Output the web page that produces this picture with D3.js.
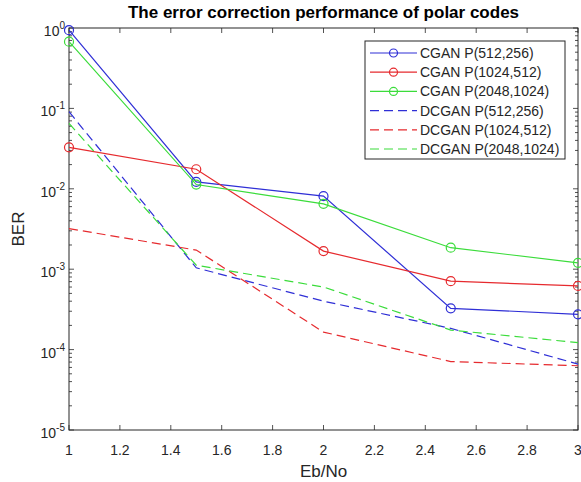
<!DOCTYPE html>
<html>
<head>
<meta charset="utf-8">
<script src="https://cdn.jsdelivr.net/npm/d3@7"></script>
<style>
  body { margin: 0; background: #fff; }
  text { font-family: "Liberation Sans", Arial, sans-serif; fill: #262626; }
  .line { fill: none; stroke-width: 1.2; }
</style>
</head>
<body>
<script>
// Data
let ebno = [1, 1.5, 2, 2.5, 3];
let cgan512 = [0.94, 0.0122, 0.0081, 3.26e-4, 2.75e-4];
let cgan1024 = [0.0328, 0.0175, 1.68e-3, 7.1e-4, 6.2e-4];
let cgan2048 = [0.675, 0.0113, 6.5e-3, 1.85e-3, 1.2e-3];
let dcgan512 = [0.091, 1.04e-3, 4.0e-4, 1.84e-4, 6.6e-5];
let dcgan1024 = [3.2e-3, 1.73e-3, 1.65e-4, 7.1e-5, 6.3e-5];
let dcgan2048 = [0.065, 1.12e-3, 6.0e-4, 1.75e-4, 1.22e-4];

let seriesNames = ["CGAN P(512,256)", "CGAN P(1024,512)", "CGAN P(2048,1024)",
                   "DCGAN P(512,256)", "DCGAN P(1024,512)", "DCGAN P(2048,1024)"];
let seriesValues = [cgan512, cgan1024, cgan2048, dcgan512, dcgan1024, dcgan2048];
let seriesColors = ["#2f2fd6", "#e62a2e", "#3bdc3b", "#2f2fd6", "#e62a2e", "#3bdc3b"];
let seriesDashed = [false, false, false, true, true, true];

let xTicks = [1, 1.2, 1.4, 1.6, 1.8, 2, 2.2, 2.4, 2.6, 2.8, 3];
let yExponents = [0, -1, -2, -3, -4, -5];

// Set the dimensions of the canvas / graph
let margin = {top: 28, right: 3, bottom: 52, left: 69};
let width = 581 - margin.left - margin.right;
let height = 482 - margin.top - margin.bottom;

// Set the ranges
let x = d3.scaleLinear().domain([1, 3]).range([0, width]);
let y = d3.scaleLog().domain([1e-5, 1]).range([height, 0]);

let svg = d3.select("body")
    .append("svg")
        .attr("width", 581)
        .attr("height", 482)
    .append("g")
        .attr("transform", "translate(" + margin.left + "," + margin.top + ")");

// minor log ticks (2..9 in each decade)
let minorTicks = [];
yExponents.slice(1).forEach(function(e) {
    for (let k = 2; k <= 9; k++) minorTicks.push(k * Math.pow(10, e));
});

let tickG = svg.append("g").attr("stroke", "#262626").attr("stroke-width", 0.8);

// x ticks, inward on bottom and top
xTicks.forEach(function(t) {
    tickG.append("line").attr("x1", x(t)).attr("x2", x(t)).attr("y1", height).attr("y2", height - 5);
    tickG.append("line").attr("x1", x(t)).attr("x2", x(t)).attr("y1", 0).attr("y2", 5);
});
// y major ticks
yExponents.forEach(function(e) {
    let v = Math.pow(10, e);
    tickG.append("line").attr("x1", 0).attr("x2", 5).attr("y1", y(v)).attr("y2", y(v));
    tickG.append("line").attr("x1", width).attr("x2", width - 5).attr("y1", y(v)).attr("y2", y(v));
});
// y minor ticks
minorTicks.forEach(function(v) {
    tickG.append("line").attr("x1", 0).attr("x2", 3).attr("y1", y(v)).attr("y2", y(v));
    tickG.append("line").attr("x1", width).attr("x2", width - 3).attr("y1", y(v)).attr("y2", y(v));
});

// box
svg.append("rect")
    .attr("width", width).attr("height", height)
    .attr("fill", "none").attr("stroke", "#262626").attr("stroke-width", 1);

// x tick labels
svg.append("g").selectAll("text")
    .data(xTicks).enter().append("text")
    .attr("x", function(d) { return x(d); })
    .attr("y", height + 25)
    .style("text-anchor", "middle")
    .style("font-size", "14px")
    .text(function(d) { return d; });

// y tick labels: 10^e
let yLab = svg.append("g").selectAll("text")
    .data(yExponents).enter().append("text")
    .attr("x", -4)
    .attr("y", function(d) { return y(Math.pow(10, d)) + 8; })
    .style("text-anchor", "end")
    .style("font-size", "14px");
yLab.append("tspan").text("10");
yLab.append("tspan").attr("dy", -7).style("font-size", "10px")
    .text(function(d) { return d === 0 ? "0" : "-" + Math.abs(d); });

// axis labels
svg.append("text")
    .attr("x", width / 2)
    .attr("y", height + 47)
    .style("text-anchor", "middle")
    .style("font-size", "17px")
    .text("Eb/No");

svg.append("text")
    .attr("transform", "rotate(-90)")
    .attr("x", -height / 2)
    .attr("y", -45)
    .style("text-anchor", "middle")
    .style("font-size", "17px")
    .text("BER");

// title
svg.append("text")
    .attr("x", width / 2)
    .attr("y", -10)
    .style("text-anchor", "middle")
    .style("font-size", "17px")
    .style("font-weight", "bold")
    .style("fill", "#000")
    .text("The error correction performance of polar codes");

// Define the line
let valueline = d3.line()
    .x(function(d) { return x(d[0]); })
    .y(function(d) { return y(d[1]); });

seriesValues.forEach(function(vals, i) {
    let pts = ebno.map(function(e, j) { return [e, vals[j]]; });
    svg.append("path")
        .attr("class", "line")
        .attr("stroke", seriesColors[i])
        .attr("stroke-dasharray", seriesDashed[i] ? "9,5" : null)
        .attr("d", valueline(pts));
    if (!seriesDashed[i]) {
        svg.append("g").selectAll("circle")
            .data(pts).enter().append("circle")
            .attr("cx", function(d) { return x(d[0]); })
            .attr("cy", function(d) { return y(d[1]); })
            .attr("r", 4.5)
            .attr("fill", "none")
            .attr("stroke", seriesColors[i])
            .attr("stroke-width", 1.2);
    }
});

// legend
let lgX = 365 - margin.left, lgY = 41 - margin.top;
let legend = svg.append("g").attr("transform", "translate(" + lgX + "," + lgY + ")");
legend.append("rect")
    .attr("width", 200).attr("height", 118)
    .attr("fill", "#fff").attr("stroke", "#262626").attr("stroke-width", 1);
seriesNames.forEach(function(name, i) {
    let ry = 12 + i * 19.2;
    legend.append("line")
        .attr("x1", 5).attr("x2", 52).attr("y1", ry).attr("y2", ry)
        .attr("stroke", seriesColors[i]).attr("stroke-width", 1.2)
        .attr("stroke-dasharray", seriesDashed[i] ? "9,5" : null);
    if (!seriesDashed[i]) {
        legend.append("circle")
            .attr("cx", 28.5).attr("cy", ry).attr("r", 4)
            .attr("fill", "none").attr("stroke", seriesColors[i]).attr("stroke-width", 1.2);
    }
    legend.append("text")
        .attr("x", 55).attr("y", ry + 5)
        .style("font-size", "14px")
        .text(name);
});
</script>
</body>
</html>
